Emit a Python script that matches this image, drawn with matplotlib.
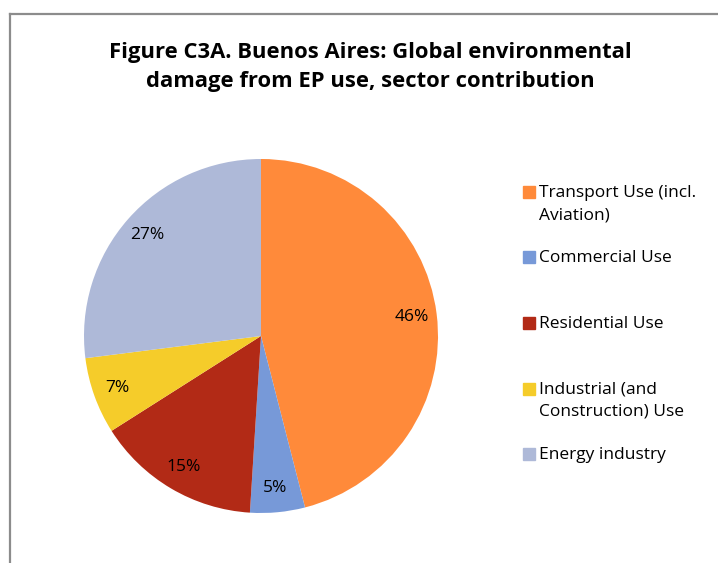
import matplotlib
matplotlib.use("Agg")
import matplotlib.pyplot as plt
from matplotlib.lines import Line2D
from matplotlib.patches import Rectangle

sectors = ["Transport Use (incl.\nAviation)", "Commercial Use", "Residential Use",
           "Industrial (and\nConstruction) Use", "Energy industry"]
shares = [46, 5, 15, 7, 27]
colors = ["#FF8A3A", "#7799D8", "#B22A16", "#F5CC2A", "#AEB9D8"]

plt.rcParams['font.family'] = ['Open Sans', 'DejaVu Sans']

W, H = 718, 563
fig = plt.figure(figsize=(W / 100, H / 100), dpi=100)

# frame of the chart area (cut off at right and bottom)
fig.add_artist(Line2D([10 / W, 10 / W], [0, 1 - 14 / H], color="#8C8C8C", lw=1.6))
fig.add_artist(Line2D([10 / W, 1], [1 - 14 / H, 1 - 14 / H], color="#8C8C8C", lw=1.6))

ax = fig.add_axes([84 / W, 50 / H, 354 / W, 354 / H])
ax.pie(shares, colors=colors, startangle=90, counterclock=False,
       autopct='%1.0f%%', pctdistance=0.86,
       textprops={'fontsize': 12.5, 'color': 'black'})
ax.set_xlim(-1, 1)
ax.set_ylim(-1, 1)
ax.axis('off')

fig.text(370 / W, 1 - 67 / H,
         "Figure C3A. Buenos Aires: Global environmental\ndamage from EP use, sector contribution",
         ha='center', va='center', fontsize=15.8, fontweight='bold', linespacing=1.55)

# legend entries
legend_y = [192, 257, 323, 389, 454]
for name, c, y in zip(sectors, colors, legend_y):
    fig.add_artist(Rectangle((523 / W, 1 - (y + 6) / H), 12 / W, 12 / H,
                             color=c, transform=fig.transFigure))
    fig.text(539 / W, 1 - (y - 7) / H, name, ha='left', va='top', fontsize=12.5,
             linespacing=1.5, transform=fig.transFigure)

fig.savefig("out.png", dpi=100)
